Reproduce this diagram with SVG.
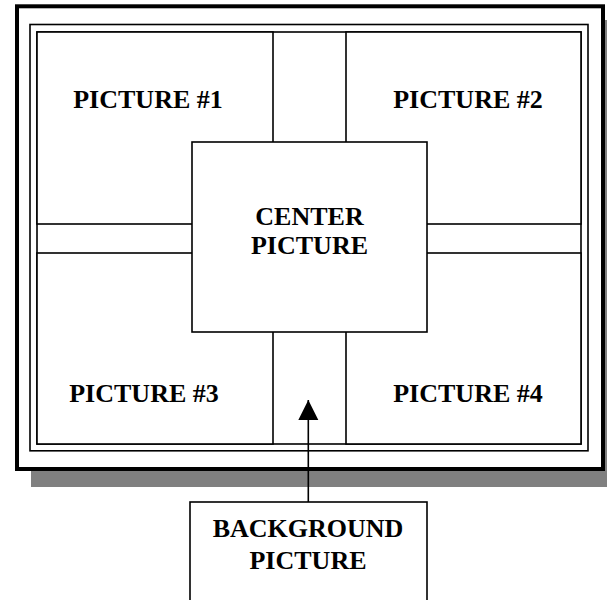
<svg xmlns="http://www.w3.org/2000/svg" width="607" height="600" viewBox="0 0 607 600">
  <style>
    .box { fill: #ffffff; stroke: #000000; stroke-width: 1.6; }
    .line { fill: none; stroke: #000000; stroke-width: 1.6; }
    .lbl { font-family: "Liberation Serif", "Times New Roman", serif; font-weight: bold; font-size: 26px; fill: #000000; text-anchor: middle; }
  </style>
  <defs>
    <marker id="arrow" markerUnits="userSpaceOnUse" markerWidth="22" markerHeight="22" refX="20" refY="10" orient="auto">
      <path d="M0,0 L20,10 L0,20 Z" fill="#000000"/>
    </marker>
  </defs>
  <rect width="607" height="600" fill="#ffffff"/>

  <g id="frame">
    <rect x="31" y="20" width="590" height="467" fill="#808080"/>
    <rect x="17" y="6.3" width="586" height="462.7" fill="#ffffff" stroke="#000000" stroke-width="4"/>
    <rect class="line" x="30" y="24.5" width="558" height="426.3"/>
    <rect class="line" x="37" y="32" width="544" height="412"/>
  </g>

  <g id="picture1">
    <rect class="box" x="37" y="32" width="236" height="192"/>
    <text class="lbl" x="148" y="108">PICTURE #1</text>
  </g>
  <g id="picture2">
    <rect class="box" x="346" y="32" width="235" height="192"/>
    <text class="lbl" x="468" y="108">PICTURE #2</text>
  </g>
  <g id="picture3">
    <rect class="box" x="37" y="253" width="236" height="191"/>
    <text class="lbl" x="144" y="402">PICTURE #3</text>
  </g>
  <g id="picture4">
    <rect class="box" x="346" y="253" width="235" height="191"/>
    <text class="lbl" x="468" y="402">PICTURE #4</text>
  </g>
  <g id="center">
    <rect class="box" x="192" y="142" width="235" height="190"/>
    <text class="lbl" x="309.5" y="225">CENTER</text>
    <text class="lbl" x="309.5" y="254">PICTURE</text>
  </g>
  <g id="background">
    <rect class="box" x="190" y="502" width="237" height="110"/>
    <text class="lbl" x="308" y="537">BACKGROUND</text>
    <text class="lbl" x="308" y="569">PICTURE</text>
  </g>

  <g id="connectors">
    <line class="line" x1="308.3" y1="502" x2="308.3" y2="400" marker-end="url(#arrow)"/>
  </g>
</svg>
